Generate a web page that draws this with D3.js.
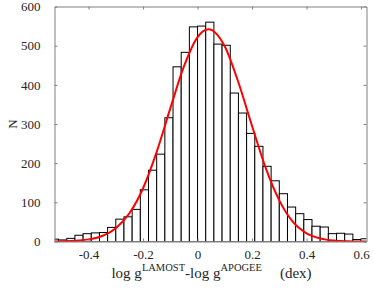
<!DOCTYPE html>
<html>
<head>
<meta charset="utf-8">
<script src="https://cdn.jsdelivr.net/npm/d3@7"></script>
<style>
  body { margin: 0; background: #fff; }
</style>
</head>
<body>
<div id="chart"></div>
<script>
// histogram bins (left edge, dex) and counts
const binLeft = [-0.54, -0.51, -0.48, -0.45, -0.42, -0.39, -0.36, -0.33, -0.30, -0.27,
  -0.24, -0.21, -0.18, -0.15, -0.12, -0.09, -0.06, -0.03, 0.00, 0.03,
  0.06, 0.09, 0.12, 0.15, 0.18, 0.21, 0.24, 0.27, 0.30, 0.33,
  0.36, 0.39, 0.42, 0.45, 0.48, 0.51, 0.54, 0.57, 0.60];
const counts = [6, 4, 8, 16, 20, 22, 23, 36, 57, 63,
  82, 132, 182, 223, 316, 446, 483, 548, 550, 560,
  504, 501, 379, 328, 276, 243, 192, 155, 122, 88,
  71, 56, 39, 37, 20, 21, 19, 5, 7];
const binWidth = 0.03;

// gaussian fit curve
const fitX = [-0.525, -0.45, -0.4, -0.35, -0.3, -0.25, -0.2, -0.15, -0.1, -0.05,
  0, 0.04, 0.1, 0.15, 0.2, 0.25, 0.3, 0.35, 0.4, 0.45, 0.5, 0.55, 0.62];
const fitY = [0.3, 1.8, 5.4, 14, 34, 72, 136, 229, 340, 447,
  522, 542, 498, 406, 295, 188, 105, 50, 21, 8, 2.5, 0.8, 0.2];

const xTicks = [-0.4, -0.2, 0, 0.2, 0.4, 0.6];
const yTicks = [0, 100, 200, 300, 400, 500, 600];

const W = 374, H = 289;
const m = { left: 54.5, right: 366.5, top: 6.5, bottom: 241.5 };
const font = '"Liberation Serif", "Times New Roman", serif';

const svg = d3.select("#chart").append("svg")
  .attr("width", W).attr("height", H);

const x = d3.scaleLinear().domain([-0.525, 0.62]).range([m.left, m.right]);
const y = d3.scaleLinear().domain([0, 600]).range([m.bottom, m.top]);

svg.append("clipPath").attr("id", "clip")
  .append("rect")
  .attr("x", m.left).attr("y", m.top)
  .attr("width", m.right - m.left).attr("height", m.bottom - m.top);

const plot = svg.append("g").attr("clip-path", "url(#clip)");

// bars
plot.selectAll(".bar")
  .data(counts)
  .enter()
  .append("rect")
  .attr("class", "bar")
  .attr("x", (d, i) => x(binLeft[i]))
  .attr("y", (d) => y(d))
  .attr("width", (d, i) => x(binLeft[i] + binWidth) - x(binLeft[i]))
  .attr("height", (d) => y(0) - y(d))
  .attr("fill", "#fff")
  .attr("stroke", "#000")
  .attr("stroke-width", 1);

// fit line
const line = d3.line()
  .x((d, i) => x(fitX[i]))
  .y((d) => y(d))
  .curve(d3.curveMonotoneX);

plot.append("path")
  .datum(fitY)
  .attr("d", line)
  .attr("fill", "none")
  .attr("stroke", "#ff0000")
  .attr("stroke-width", 2);

// axes, ticks pointing inward on all sides
const axisColor = "#808080";

const gx = svg.append("g")
  .attr("transform", `translate(0,${m.bottom})`)
  .call(d3.axisBottom(x).tickValues(xTicks).tickSizeInner(-3).tickSizeOuter(0)
    .tickPadding(8).tickFormat((d) => String(d)));

const gy = svg.append("g")
  .attr("transform", `translate(${m.left},0)`)
  .call(d3.axisLeft(y).tickValues(yTicks).tickSizeInner(-3).tickSizeOuter(0)
    .tickPadding(14));

const gt = svg.append("g")
  .attr("transform", `translate(0,${m.top})`)
  .call(d3.axisTop(x).tickValues(xTicks).tickSizeInner(-3).tickSizeOuter(0)
    .tickFormat(""));

const gr = svg.append("g")
  .attr("transform", `translate(${m.right},0)`)
  .call(d3.axisRight(y).tickValues(yTicks).tickSizeInner(-3).tickSizeOuter(0)
    .tickFormat(""));

[gx, gy, gt, gr].forEach((g) => {
  g.attr("font-family", font).attr("font-size", 13);
  g.select(".domain").attr("stroke", axisColor);
  g.selectAll(".tick line").attr("stroke", axisColor);
  g.selectAll(".tick text").attr("fill", "#262626");
});

// y label
svg.append("text")
  .attr("transform", `translate(17,${(m.top + m.bottom) / 2}) rotate(-90)`)
  .attr("text-anchor", "middle")
  .attr("font-family", font)
  .attr("font-size", 13)
  .attr("fill", "#262626")
  .text("N");

// x label with superscripts
const xl = svg.append("text")
  .attr("x", (m.left + m.right) / 2 + 1)
  .attr("y", 278)
  .attr("text-anchor", "middle")
  .attr("font-family", font)
  .attr("font-size", 15)
  .attr("fill", "#262626");
xl.append("tspan").text("log g");
xl.append("tspan").attr("dy", -7).attr("font-size", 10.5).text("LAMOST");
xl.append("tspan").attr("dy", 7).text("-log g");
xl.append("tspan").attr("dy", -7).attr("font-size", 10.5).text("APOGEE");
xl.append("tspan").attr("dy", 7).attr("dx", 18).text("(dex)");
</script>
</body>
</html>
